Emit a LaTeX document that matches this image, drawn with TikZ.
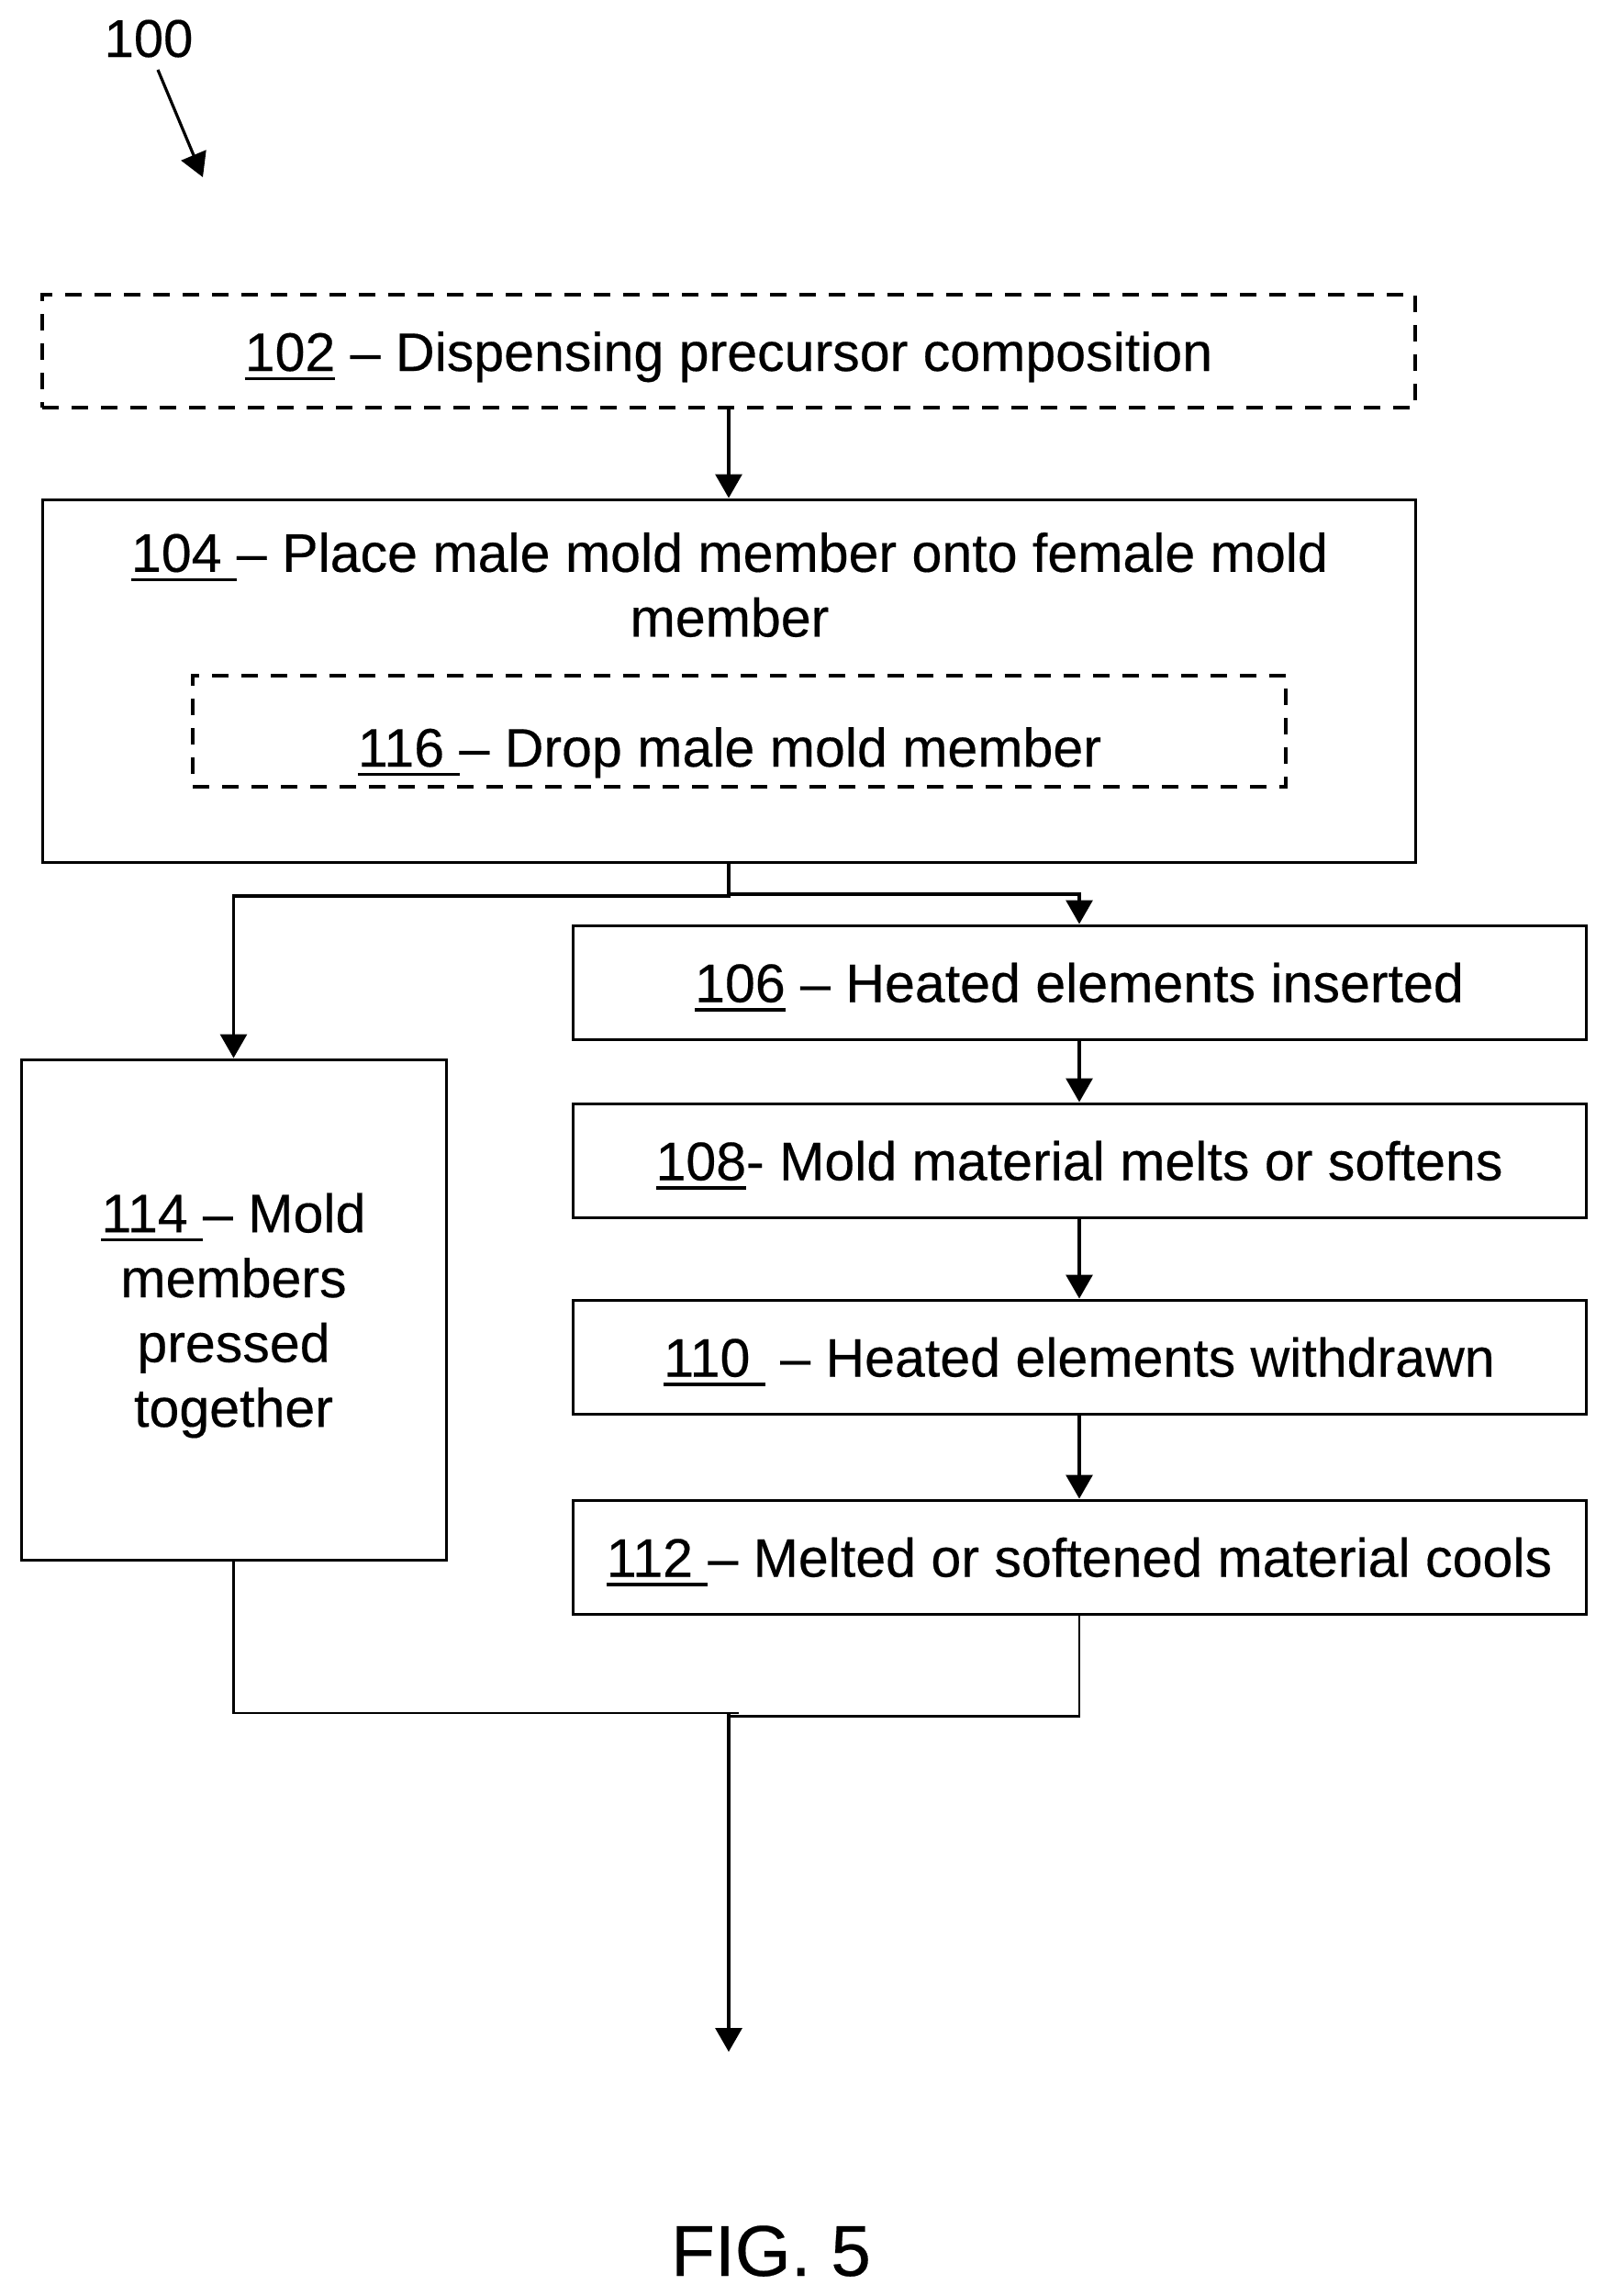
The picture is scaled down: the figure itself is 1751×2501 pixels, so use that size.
\documentclass[tikz,border=0pt]{standalone}
\usepackage{fontspec}
\setmainfont[FakeBold=0.3]{Liberation Sans}
\usetikzlibrary{arrows.meta}
\newcommand\undl[1]{\setbox0=\hbox{#1}\rlap{\rule[-5pt]{\wd0}{1.6pt}}\box0 }
\tikzset{
  x=0.5pt,y=-0.5pt,
  box/.style={draw=black,line width=1.5pt,rectangle,inner sep=0pt,minimum width=#1,align=center,text height=21.5pt,text depth=0pt,font=\fontsize{29.55}{35.3}\selectfont},
  dbox/.style={box=#1,line width=2pt,dash pattern=on 9pt off 7pt},
  lbl/.style={inner sep=0pt,align=center,font=\fontsize{29.55}{35.3}\selectfont},
  link/.style={draw=black,line width=1.6pt},
  thin link/.style={draw=black,line width=1.1pt},
  arrow/.style={link,-{Triangle[length=13pt,width=14.5pt]}},
}
\begin{document}
\begin{tikzpicture}
\useasboundingbox (0,0) rectangle (1751,2501);
\node[lbl,font=\fontsize{29}{35}\selectfont,text height=21pt,text depth=0pt] (n100) at (162,41) {100};
\coordinate (a0) at (172,76);
\coordinate (a1) at (221,193);
\draw[arrow] (a0) -- (a1);

\node[dbox=748pt,minimum height=61.5pt] (b102) at (794,382.5) {\undl{102} – Dispensing precursor composition};
\node[box=748pt,minimum height=197.5pt] (b104) at (794,741.5) {};
\node[lbl] (t104) at (795,637) {\undl{104 }– Place male mold member onto female mold\\member};
\node[dbox=595.5pt,minimum height=60.5pt] (b116) at (805.5,796.5) {};
\node[lbl,text height=21.5pt,text depth=0pt] (t116) at (795,813.5) {\undl{116 }– Drop male mold member};
\node[box=552pt,minimum height=62pt] (b106) at (1176,1070) {\undl{106} – Heated elements inserted};
\node[box=552pt,minimum height=62pt] (b108) at (1176,1264) {\undl{108}- Mold material melts or softens};
\node[box=552pt,minimum height=62pt] (b110) at (1176,1478) {\undl{110 } – Heated elements withdrawn};
\node[box=552pt,minimum height=62pt] (b112) at (1176,1696) {\undl{112 }– Melted or softened material cools};
\node[box=231.5pt,minimum height=272.5pt] (b114) at (254.5,1426.5) {};
\node[lbl] (t114) at (254.5,1433) {\undl{114 }– Mold\\members\\pressed\\together};
\node[inner sep=0pt,font=\fontsize{39.2}{44}\selectfont,text height=26pt,text depth=0pt] (fig) at (840,2453) {FIG. 5};

\draw[arrow] (b102.south) -- (b104.north);
\coordinate (jr) at (794,974);
\coordinate (jl) at (794,976);
\draw[arrow] (b104.south) -- (jr) -| (b106.north);
\draw[arrow] (b104.south) -- (jl) -| (b114.north);
\draw[arrow] (b106) -- (b108);
\draw[arrow] (b108) -- (b110);
\draw[arrow] (b110) -- (b112);
\coordinate (jm) at (805,1866);
\coordinate (jb) at (794,1869.5);
\coordinate (jd) at (794,1866);
\coordinate (end) at (794,2235);
\draw[thin link] (b114.south) |- (jm);
\draw[thin link] (b112.south) |- (jb);
\draw[arrow] (jd) -- (end);
\end{tikzpicture}
\end{document}
